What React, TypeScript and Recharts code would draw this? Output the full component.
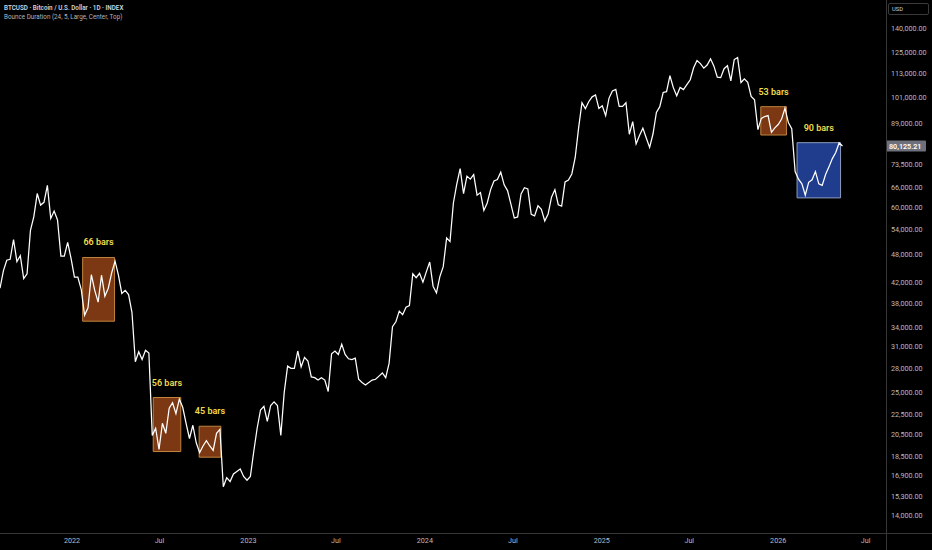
import React from "react";
import { LineChart, Line, XAxis, YAxis, ReferenceArea, ReferenceLine } from "recharts";

// weekly closes (Thursdays), starting 2021-08-05
const firstWeek = "2021-08-05";

const closes2021 = [
  40900, 44400, 46700, 46900, 51500, 46400, 47700, 42800, 43800, 53800, 57400,
  64000, 60600, 61400, 66500, 56900, 58900, 56500, 47600, 47600, 50800, 47100,
];
const closes2022 = [
  43100, 43100, 40700, 36000, 37300, 43600, 40500, 38300, 43500, 39400, 40900,
  44000, 46500, 43500, 39900, 40500, 39700, 36500, 28900, 30300, 29200, 30500,
  30100, 20400, 21100, 19100, 21600, 20600, 23200, 23800, 22600, 24200, 23300,
  21600, 20100, 21400, 19700, 18800, 19400, 19900, 19400, 19000, 20600, 21000,
  16000, 16700, 16400, 17000, 17200, 17400, 16800, 16500,
];
const closes2023 = [
  16800, 18900, 21100, 23000, 23400, 21800, 23500, 23900, 23500, 20400, 25000,
  28300, 28000, 28000, 30400, 28200, 29500, 29000, 26900, 26800, 26500, 26800,
  26500, 25100, 30000, 30400, 29900, 31400, 29900, 29300, 29200, 29400, 26600,
  26200, 25900, 26200, 26500, 26600, 27000, 27400, 26800, 28700, 34100, 34900,
  36700, 36100, 37400, 37700, 43800, 43000, 43900, 42100,
];
const closes2024 = [
  44200, 46300, 41300, 40000, 43200, 45300, 51900, 51000, 61200, 66900, 72000,
  64000, 69500, 68500, 70000, 63500, 64300, 59100, 61200, 65200, 67900, 68400,
  70800, 66700, 64900, 60900, 57000, 57300, 63900, 65800, 65400, 58000, 57600,
  60400, 59400, 56200, 58100, 62900, 65200, 60700, 60300, 67600, 68200, 70200,
  75900, 87200, 98300, 95600, 98800, 101100, 102000, 95700,
];
const closes2025 = [
  96900, 92500, 100500, 103900, 104700, 96600, 96600, 98300, 84700, 89900, 80900,
  84200, 87200, 83200, 79600, 84900, 93900, 96500, 103200, 103600, 111700, 105600,
  101600, 105700, 104600, 107100, 109600, 116000, 120000, 118300, 115800, 117500,
  121000, 116900, 111000, 110700, 115500, 117100, 109000, 120600, 121700, 108200,
  110100, 108300, 101300, 99700, 86600, 91300, 92100, 92500, 85500, 87300,
];
const closes2026 = [
  88700, 91000, 95800, 89500, 87000, 71000, 68500, 67000, 63500, 67500, 68300,
  71000, 67000, 66500, 70000, 72600, 75500, 77700, 81300, 80125.21,
];

const xTickDates = [
  "2022-01-01", "2022-07-01", "2023-01-01", "2023-07-01", "2024-01-01",
  "2024-07-01", "2025-01-01", "2025-07-01", "2026-01-01", "2026-07-01",
];
const yTicks = [
  14000, 15300, 16900, 18500, 20500, 22500, 25000, 28000, 31000, 34000, 38000,
  42000, 48000, 54000, 60000, 66000, 73500, 89000, 101000, 113000, 125000, 140000,
];

const bounces = [
  { label: "66 bars", from: "2022-01-23", to: "2022-03-30", low: 35000, high: 47300, current: false },
  { label: "56 bars", from: "2022-06-18", to: "2022-08-14", low: 18900, high: 24400, current: false },
  { label: "45 bars", from: "2022-09-21", to: "2022-11-05", low: 18400, high: 21300, current: false },
  { label: "53 bars", from: "2025-11-26", to: "2026-01-18", low: 84400, high: 96500, current: false },
  { label: "90 bars", from: "2026-02-09", to: "2026-05-10", low: 62700, high: 81400, current: true },
];

const DAY = 86400000;
const weeklyCloses = [
  ...closes2021, ...closes2022, ...closes2023, ...closes2024, ...closes2025, ...closes2026,
];
const start = Date.parse(firstWeek);
const data = weeklyCloses.map((close, i) => ({ t: start + i * 7 * DAY, close }));
const lastClose = weeklyCloses[weeklyCloses.length - 1];

const fmtPrice = (v: number) =>
  v.toLocaleString("en-US", { minimumFractionDigits: 2, maximumFractionDigits: 2 });

function fmtDate(v: number) {
  const d = new Date(v);
  return d.getUTCMonth() === 0 ? String(d.getUTCFullYear()) : "Jul";
}

function PriceTag(props: any) {
  const { viewBox } = props;
  const x = viewBox.x + viewBox.width;
  const y = viewBox.y;
  return (
    <g>
      <rect x={x} y={y - 5.5} width={40} height={11} fill="#6e717b" rx={1} />
      <text x={x + 3} y={y} dy="0.36em" fill="#ffffff" fontSize={7.2} fontWeight={600}>
        {fmtPrice(lastClose)}
      </text>
    </g>
  );
}

const gridColor = "#363636";
const textColor = "#b8bbc4";

export default function App() {
  return (
    <div
      style={{
        position: "absolute",
        left: 0,
        top: 0,
        width: 932,
        height: 550,
        background: "#000",
        fontFamily: "Roboto, sans-serif",
        overflow: "hidden",
      }}
    >
      <LineChart width={932} height={550} data={data} margin={{ top: 0, right: 0, bottom: 0, left: 0 }}>
        <XAxis
          dataKey="t"
          type="number"
          domain={[Date.parse("2021-08-05"), Date.parse("2026-08-12")]}
          allowDataOverflow
          ticks={xTickDates.map((d) => Date.parse(d))}
          tickFormatter={fmtDate}
          height={17}
          axisLine={false}
          tickLine={false}
          tickSize={0}
          tickMargin={5}
          tick={{ fill: textColor, fontSize: 7.2 }}
        />
        <YAxis
          orientation="right"
          type="number"
          scale="log"
          domain={[12858, 159800]}
          allowDataOverflow
          ticks={yTicks}
          tickFormatter={fmtPrice}
          width={46}
          axisLine={false}
          tickLine={false}
          tickSize={0}
          tickMargin={5}
          tick={{ fill: textColor, fontSize: 7.2 }}
        />
        {bounces.map((b) => (
          <ReferenceArea
            key={b.label + b.from}
            x1={Date.parse(b.from)}
            x2={Date.parse(b.to)}
            y1={b.low}
            y2={b.high}
            fill={b.current ? "#1f3d8c" : "#7b3812"}
            fillOpacity={1}
            stroke={b.current ? "#8d9bbd" : "#c0843f"}
            strokeWidth={1}
            label={{
              value: b.label,
              position: "top",
              offset: 12,
              fill: "#f0dc4a",
              fontSize: 9,
              fontWeight: 600,
            }}
          />
        ))}
        <Line
          type="linear"
          dataKey="close"
          stroke="#ffffff"
          strokeWidth={1.25}
          dot={false}
          activeDot={false}
          isAnimationActive={false}
        />
        <ReferenceLine y={lastClose} stroke="none" label={<PriceTag />} />
      </LineChart>
      {/* pane separators */}
      <div style={{ position: "absolute", left: 886, top: 0, width: 1, height: 550, background: gridColor }} />
      <div style={{ position: "absolute", left: 0, top: 533, width: 932, height: 1, background: gridColor }} />
      {/* header */}
      <div
        style={{
          position: "absolute",
          left: 4,
          top: 4,
          fontSize: 6.3,
          lineHeight: "9px",
          color: "#d1d4dc",
          whiteSpace: "nowrap",
        }}
      >
        <div style={{ fontWeight: 600 }}>BTCUSD · Bitcoin / U.S. Dollar · 1D · INDEX</div>
        <div style={{ color: "#b2b5be" }}>Bounce Duration (24, 5, Large, Center, Top)</div>
      </div>
      {/* currency box */}
      <div
        style={{
          position: "absolute",
          left: 888,
          top: 3,
          width: 41,
          height: 12,
          boxSizing: "border-box",
          border: "1px solid #3a3a3a",
          borderRadius: 2,
          color: "#d1d4dc",
          fontSize: 5.8,
          lineHeight: "10px",
          paddingLeft: 3,
        }}
      >
        USD
      </div>
    </div>
  );
}
